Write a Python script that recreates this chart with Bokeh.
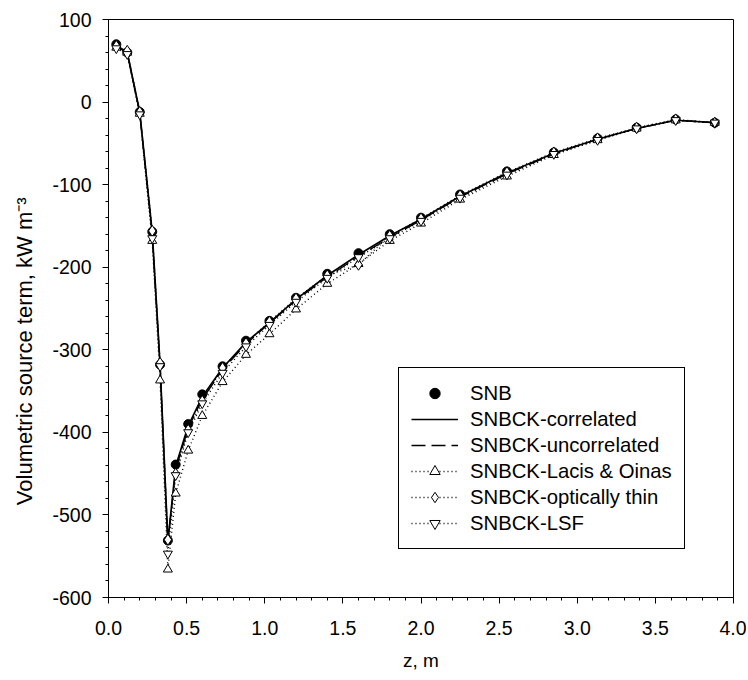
from bokeh.plotting import figure
from bokeh.models import Range1d, FixedTicker, PrintfTickFormatter, Legend, LegendItem
from bokeh.embed import file_html
from bokeh.resources import INLINE

# ---- data ----
z = [0.05, 0.12, 0.20, 0.28, 0.33, 0.38, 0.43, 0.51, 0.60, 0.73, 0.88, 1.03,
     1.20, 1.40, 1.60, 1.80, 2.00, 2.25, 2.55, 2.85, 3.13, 3.38, 3.63, 3.88]
snb = [70, 60, -12, -157, -318, -531, -439, -390, -354, -320, -289, -265,
       -237, -208, -183, -160, -140, -112, -84, -61, -44, -31, -21, -25]
corr = [69, 60, -12, -158, -318, -532, -441, -392, -357, -322, -291, -267,
        -239, -210, -185, -162, -142, -114, -86, -62, -45, -32, -22, -25]
uncorr = [68, 59, -13, -160, -320, -533, -445, -395, -360, -324, -293, -268,
          -240, -212, -187, -164, -143, -115, -87, -63, -45, -32, -22, -25]
lacis = [66, 60, -14, -168, -337, -566, -474, -422, -380, -339, -306, -281,
         -251, -220, -196, -168, -147, -118, -90, -64, -46, -32, -22, -25]
thin = [68, 62, -12, -156, -316, -530, -450, -397, -362, -322, -292, -266,
        -238, -210, -197, -162, -141, -113, -85, -61, -44, -31, -21, -25]
lsf = [65, 58, -15, -165, -320, -547, -452, -400, -365, -328, -296, -270,
       -242, -213, -188, -165, -144, -116, -88, -63, -46, -32, -22, -25]

x_ticks = [0.0, 0.5, 1.0, 1.5, 2.0, 2.5, 3.0, 3.5, 4.0]
y_ticks = [-600, -500, -400, -300, -200, -100, 0, 100]
x_minor = [i / 10 for i in range(0, 41)]
y_minor = list(range(-600, 101, 20))

FONT = "Liberation Sans"
NB = "\u00a0"

p = figure(width=746, height=678, output_backend="svg", toolbar_location=None,
           x_range=Range1d(0, 4), y_range=Range1d(-600, 100),
           min_border_left=108, min_border_right=13, min_border_top=19,
           min_border_bottom=81)
p.grid.visible = False
p.outline_line_color = "black"
p.outline_line_width = 1
p.outline_line_alpha = 1
p.background_fill_color = "white"

for ax in (p.xaxis[0], p.yaxis[0]):
    ax.axis_line_color = "black"
    ax.major_tick_line_color = "black"
    ax.minor_tick_line_color = "black"
    ax.major_tick_out = 6
    ax.major_tick_in = 0
    ax.minor_tick_out = 3
    ax.minor_tick_in = 0
    ax.major_label_text_font = FONT
    ax.major_label_text_font_size = "19.5px"
    ax.major_label_text_color = "black"
    ax.axis_label_text_font = FONT
    ax.axis_label_text_font_style = "normal"
    ax.axis_label_text_color = "black"

p.xaxis.ticker = FixedTicker(ticks=x_ticks, minor_ticks=x_minor)
p.yaxis.ticker = FixedTicker(ticks=y_ticks, minor_ticks=y_minor)
p.xaxis.formatter = PrintfTickFormatter(format="%.1f")
p.yaxis.formatter = PrintfTickFormatter(format="%d")
p.xaxis.major_label_standoff = 17
p.yaxis.major_label_standoff = 11
p.xaxis.axis_label = "z, m"
p.xaxis.axis_label_text_font_size = "19px"
p.yaxis.axis_label = "Volumetric source term, kW m\u207b\u00b3" + NB * 14
p.yaxis.axis_label_text_font_size = "22px"
p.xaxis.axis_label_standoff = 12
p.yaxis.axis_label_standoff = 12

# lines
r_corr = p.line(z, corr, line_color="black", line_width=1.7)
r_unc = p.line(z, uncorr, line_color="black", line_width=1.3, line_dash="14 6")
r_lac_l = p.line(z, lacis, line_color="black", line_width=1.4, line_dash="1 3")
r_thin_l = p.line(z, thin, line_color="black", line_width=1.4, line_dash="1 3")
r_lsf_l = p.line(z, lsf, line_color="black", line_width=1.4, line_dash="1 3")

# markers
r_snb = p.scatter(z, snb, marker="circle", size=9, fill_color="black", line_color="black")
r_lac_m = p.scatter(z, lacis, marker="triangle", size=9, fill_color="white",
                    line_color="black", line_width=1)
r_thin_m = p.scatter(z, thin, marker="diamond", size=11, fill_color="white",
                     line_color="black", line_width=1)
r_lsf_m = p.scatter(z, lsf, marker="inverted_triangle", size=9, fill_color="white",
                    line_color="black", line_width=1)

legend = Legend(items=[
    LegendItem(label="SNB", renderers=[r_snb]),
    LegendItem(label="SNBCK-correlated", renderers=[r_corr]),
    LegendItem(label="SNBCK-uncorrelated", renderers=[r_unc]),
    LegendItem(label="SNBCK-Lacis & Oinas", renderers=[r_lac_l, r_lac_m]),
    LegendItem(label="SNBCK-optically thin", renderers=[r_thin_l, r_thin_m]),
    LegendItem(label="SNBCK-LSF", renderers=[r_lsf_l, r_lsf_m]),
], location=(290, 48))
legend.border_line_color = "black"
legend.border_line_width = 1
legend.border_line_alpha = 1
legend.background_fill_color = "white"
legend.background_fill_alpha = 1
legend.label_text_font = FONT
legend.label_text_font_size = "20.3px"
legend.label_text_color = "black"
legend.glyph_width = 47
legend.glyph_height = 26
legend.label_height = 26
legend.spacing = 0
legend.padding = 12
legend.label_standoff = 12
legend.margin = 0
p.add_layout(legend)

open("out.html", "w").write(file_html(p, INLINE))
